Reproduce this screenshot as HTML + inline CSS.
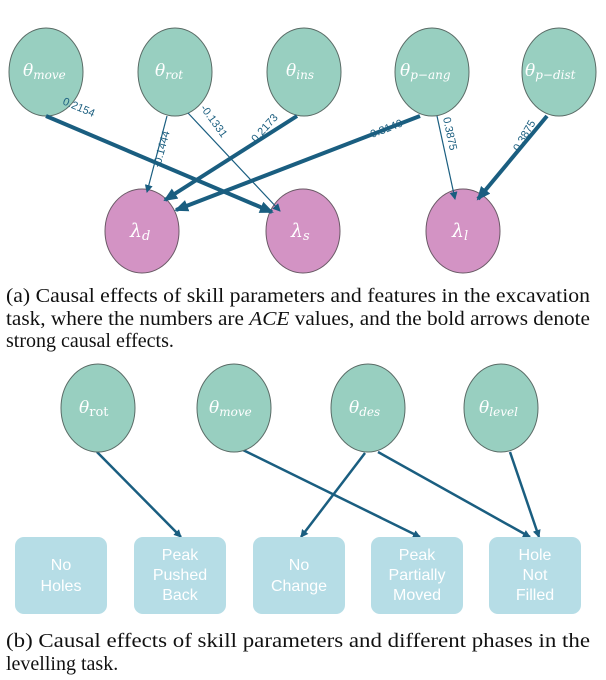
<!DOCTYPE html>
<html><head><meta charset="utf-8"><style>
html,body{margin:0;padding:0;background:#fff;}
svg{display:block;}
.c{fill:#98cfc0;stroke:#5a6b66;stroke-width:1;}
.p{fill:#d393c4;stroke:#6a5a66;stroke-width:1;}
.r{fill:#b6dde6;}
.t{font-family:"DejaVu Serif","Liberation Serif",serif;font-style:italic;fill:#fff;}
.w{font-family:"Liberation Sans Narrow","Liberation Sans",sans-serif;fill:#fff;font-size:16px;text-anchor:middle;}
.l{font-family:"Liberation Sans",sans-serif;fill:#1c5f80;font-size:11px;}
.cap{font-family:"Liberation Serif",serif;font-size:20px;fill:#111;}
.e{stroke:#1a5e80;fill:none;}
</style></head><body>
<svg width="606" height="680" viewBox="0 0 606 680" xmlns="http://www.w3.org/2000/svg">
<defs>
<marker id="a" markerWidth="8" markerHeight="8" refX="7" refY="4" orient="auto" markerUnits="userSpaceOnUse"><path d="M0,0 L8,4 L0,8 z" fill="#1a5e80"/></marker>
<marker id="b" markerWidth="14" markerHeight="12" refX="12" refY="6" orient="auto" markerUnits="userSpaceOnUse"><path d="M0,0 L14,6 L0,12 z" fill="#1a5e80"/></marker>
</defs>
<!-- part a nodes -->
<ellipse class="c" cx="46" cy="72" rx="37" ry="44"/>
<ellipse class="c" cx="175" cy="72" rx="37" ry="44"/>
<ellipse class="c" cx="304" cy="72" rx="37" ry="44"/>
<ellipse class="c" cx="432" cy="72" rx="37" ry="44"/>
<ellipse class="c" cx="559" cy="72" rx="37" ry="44"/>
<text class="t" x="23" y="76" font-size="17">θ<tspan font-size="12" dy="3">move</tspan></text>
<text class="t" x="155" y="76" font-size="17">θ<tspan font-size="12" dy="3">rot</tspan></text>
<text class="t" x="286" y="76" font-size="17">θ<tspan font-size="12" dy="3">ins</tspan></text>
<text class="t" x="400" y="76" font-size="17">θ<tspan font-size="12" dy="3">p−ang</tspan></text>
<text class="t" x="525" y="76" font-size="17">θ<tspan font-size="12" dy="3">p−dist</tspan></text>
<ellipse class="p" cx="142" cy="231" rx="37" ry="42"/>
<ellipse class="p" cx="303" cy="231" rx="37" ry="42"/>
<ellipse class="p" cx="463" cy="231" rx="37" ry="42"/>
<text class="t" x="130" y="237" font-size="19" font-style="normal">λ<tspan font-size="13" dy="3">d</tspan></text>
<text class="t" x="291" y="237" font-size="19" font-style="normal">λ<tspan font-size="13" dy="3" font-style="italic">s</tspan></text>
<text class="t" x="452" y="237" font-size="19" font-style="normal">λ<tspan font-size="13" dy="3" font-style="italic">l</tspan></text>
<!-- part a edges -->
<line class="e" x1="46" y1="116" x2="272" y2="212" stroke-width="4" marker-end="url(#b)"/>
<line class="e" x1="167" y1="116" x2="147" y2="192" stroke-width="1.2" marker-end="url(#a)"/>
<line class="e" x1="188" y1="113" x2="280" y2="211" stroke-width="1.2" marker-end="url(#a)"/>
<line class="e" x1="297" y1="116" x2="165" y2="200" stroke-width="4" marker-end="url(#b)"/>
<line class="e" x1="420" y1="116" x2="176" y2="210" stroke-width="4" marker-end="url(#b)"/>
<line class="e" x1="437" y1="116" x2="455" y2="199" stroke-width="1.2" marker-end="url(#a)"/>
<line class="e" x1="547" y1="116" x2="478" y2="199" stroke-width="4" marker-end="url(#b)"/>
<text class="l" transform="translate(62,104) rotate(23)">0.2154</text>
<text class="l" transform="translate(160,168) rotate(-75)">-0.1444</text>
<text class="l" transform="translate(200,108) rotate(54)">-0.1331</text>
<text class="l" transform="translate(256,143) rotate(-48)">0.2173</text>
<text class="l" transform="translate(372,138) rotate(-21)">0.3140</text>
<text class="l" transform="translate(443,118) rotate(78)">0.3875</text>
<text class="l" transform="translate(519,152) rotate(-60)">0.3875</text>
<!-- caption a -->
<text class="cap" x="6" y="302" textLength="584" lengthAdjust="spacingAndGlyphs">(a) Causal effects of skill parameters and features in the excavation</text>
<text class="cap" x="6" y="325" textLength="584" lengthAdjust="spacingAndGlyphs">task, where the numbers are <tspan font-style="italic">ACE</tspan> values, and the bold arrows denote</text>
<text class="cap" x="6" y="347">strong causal effects.</text>
<!-- part b edges -->
<line class="e" x1="97" y1="452" x2="181" y2="537" stroke-width="2.5" marker-end="url(#a)"/>
<line class="e" x1="243" y1="450" x2="420" y2="537" stroke-width="2.5" marker-end="url(#a)"/>
<line class="e" x1="365" y1="453" x2="301" y2="537" stroke-width="2.5" marker-end="url(#a)"/>
<line class="e" x1="378" y1="452" x2="530" y2="537" stroke-width="2.5" marker-end="url(#a)"/>
<line class="e" x1="510" y1="452" x2="539" y2="537" stroke-width="2.5" marker-end="url(#a)"/>
<!-- part b nodes -->
<ellipse class="c" cx="98" cy="408" rx="37" ry="44"/>
<ellipse class="c" cx="234" cy="408" rx="37" ry="44"/>
<ellipse class="c" cx="368" cy="408" rx="37" ry="44"/>
<ellipse class="c" cx="501" cy="408" rx="37" ry="44"/>
<text class="t" x="79" y="413" font-size="17">θ<tspan font-size="13" dy="3" font-style="normal">rot</tspan></text>
<text class="t" x="209" y="413" font-size="17">θ<tspan font-size="12" dy="3">move</tspan></text>
<text class="t" x="349" y="413" font-size="17">θ<tspan font-size="12" dy="3">des</tspan></text>
<text class="t" x="479" y="413" font-size="17">θ<tspan font-size="12" dy="3">level</tspan></text>
<rect class="r" x="15" y="537" width="92" height="77" rx="9"/>
<rect class="r" x="134" y="537" width="92" height="77" rx="9"/>
<rect class="r" x="253" y="537" width="92" height="77" rx="9"/>
<rect class="r" x="371" y="537" width="92" height="77" rx="9"/>
<rect class="r" x="489" y="537" width="92" height="77" rx="9"/>
<text class="w" x="61" y="570">No</text><text class="w" x="61" y="591">Holes</text>
<text class="w" x="180" y="560">Peak</text><text class="w" x="180" y="580">Pushed</text><text class="w" x="180" y="600">Back</text>
<text class="w" x="299" y="570">No</text><text class="w" x="299" y="591">Change</text>
<text class="w" x="417" y="560">Peak</text><text class="w" x="417" y="580">Partially</text><text class="w" x="417" y="600">Moved</text>
<text class="w" x="535" y="560">Hole</text><text class="w" x="535" y="580">Not</text><text class="w" x="535" y="600">Filled</text>
<!-- caption b -->
<text class="cap" x="6" y="647" textLength="584" lengthAdjust="spacingAndGlyphs">(b) Causal effects of skill parameters and different phases in the</text>
<text class="cap" x="6" y="670">levelling task.</text>
</svg>
</body></html>
